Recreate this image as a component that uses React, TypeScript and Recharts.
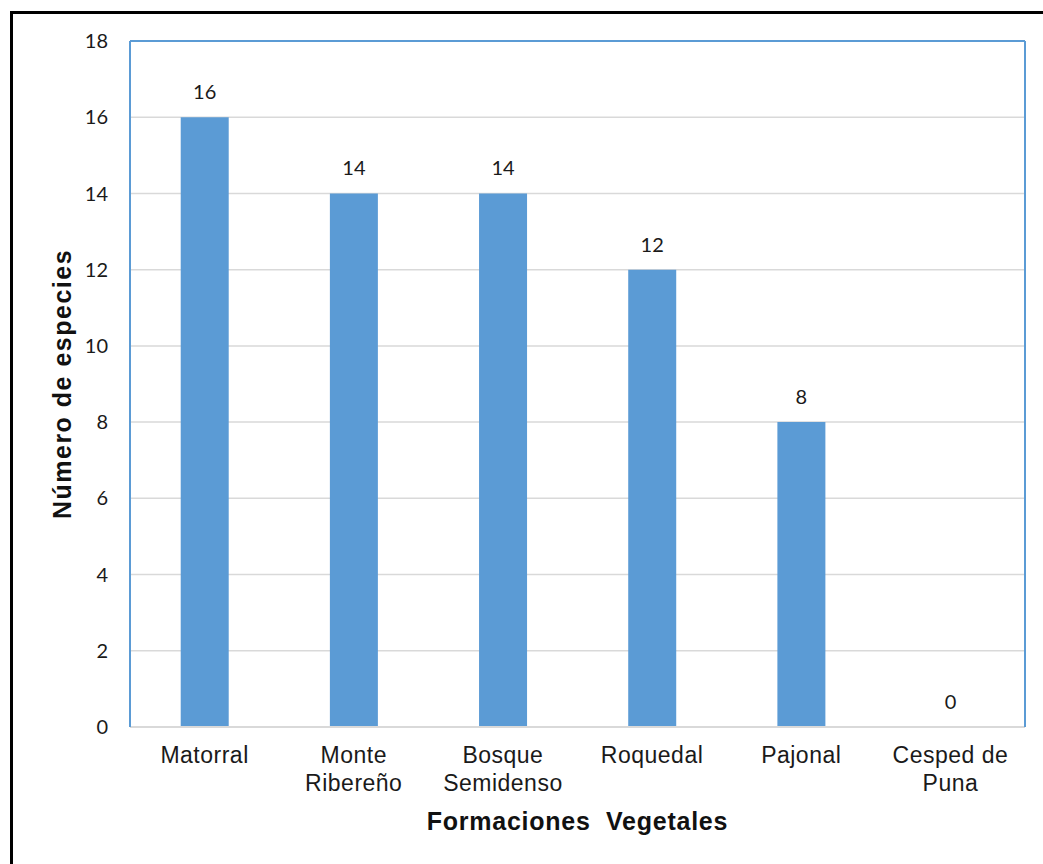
import { BarChart, Bar, XAxis, YAxis, CartesianGrid, LabelList } from "recharts";

const categories = ["Matorral", "Monte\nRibereño", "Bosque\nSemidenso", "Roquedal", "Pajonal", "Cesped de\nPuna"];
const especies = [16, 14, 14, 12, 8, 0];
const yTicks = [0, 2, 4, 6, 8, 10, 12, 14, 16, 18];

const data = categories.map((name, i) => ({ name, value: especies[i] }));

const BLUE = "#5b9bd5";
const GRID = "#d9d9d9";
const NUM_FONT = "Lato, 'Open Sans', sans-serif";
const TXT_FONT = "'Liberation Sans', Arial, sans-serif";

function CategoryTick(props: any) {
  const { x, y, payload } = props;
  const lines = String(payload.value).split("\n");
  return (
    <text x={x} y={y} textAnchor="middle" fill="#1a1a1a" fontFamily={TXT_FONT} fontSize={23} letterSpacing={0.5}>
      {lines.map((l, i) => (
        <tspan key={i} x={x} dy={i === 0 ? 28 : 28}>
          {l}
        </tspan>
      ))}
    </text>
  );
}

export default function App() {
  return (
    <div style={{ position: "absolute", left: 0, top: 0, width: 1043, height: 864, background: "#fff", overflow: "hidden" }}>
      <div
        style={{
          position: "absolute",
          left: 10,
          top: 11,
          width: 1100,
          height: 900,
          border: "3px solid #000",
          boxSizing: "border-box",
        }}
      />
      <div style={{ position: "absolute", left: 0, top: 0 }}>
        <BarChart width={1043} height={864} data={data} margin={{ top: 40, right: 17, left: 40, bottom: 27 }} barCategoryGap="34%">
          <CartesianGrid vertical={false} stroke={GRID} strokeWidth={1.5} />
          <XAxis
            dataKey="name"
            interval={0}
            height={110}
            tickLine={false}
            axisLine={{ stroke: GRID, strokeWidth: 2 }}
            tick={<CategoryTick />}
            label={{
              value: "Formaciones\u00a0 Vegetales",
              position: "insideBottom",
              offset: 7,
              style: { fontFamily: TXT_FONT, fontSize: 25, fontWeight: 700, fill: "#111", letterSpacing: 0.75 },
            }}
          />
          <XAxis xAxisId="top" dataKey="name" orientation="top" height={1} tick={false} tickLine={false} axisLine={{ stroke: BLUE, strokeWidth: 2 }} />
          <YAxis
            width={90}
            domain={[0, 18]}
            ticks={yTicks}
            interval={0}
            tickLine={false}
            tickMargin={16}
            axisLine={{ stroke: BLUE, strokeWidth: 2 }}
            tick={{ fill: "#1a1a1a", fontFamily: NUM_FONT, fontSize: 20 }}
            label={{
              value: "Número de especies",
              angle: -90,
              position: "insideLeft",
              offset: 22,
              style: { textAnchor: "middle", fontFamily: TXT_FONT, fontSize: 25, fontWeight: 700, fill: "#111", letterSpacing: 1.5 },
            }}
          />
          <YAxis yAxisId="right" orientation="right" width={1} domain={[0, 18]} tick={false} tickLine={false} axisLine={{ stroke: BLUE, strokeWidth: 2 }} />
          <Bar dataKey="value" fill={BLUE} isAnimationActive={false} minPointSize={0.01}>
            <LabelList dataKey="value" position="top" offset={18} fill="#1a1a1a" fontFamily={NUM_FONT} fontSize={20} />
          </Bar>
        </BarChart>
      </div>
    </div>
  );
}
